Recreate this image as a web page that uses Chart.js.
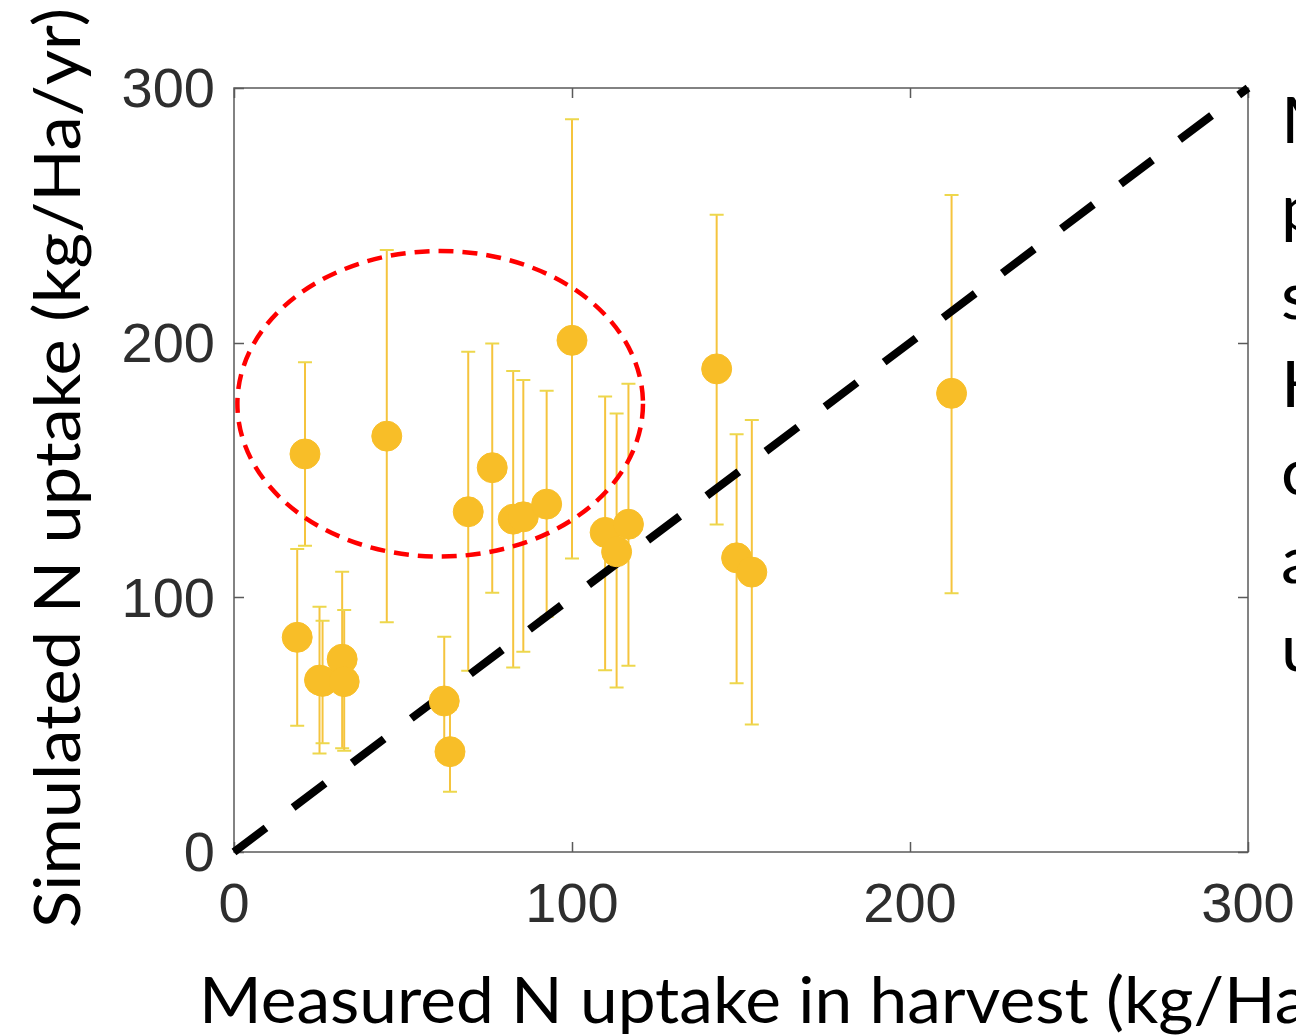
<!DOCTYPE html>
<html>
<head>
<meta charset="utf-8">
<script src="https://cdn.jsdelivr.net/npm/chart.js@4.4.1/dist/chart.umd.min.js"></script>
<style>
  html, body { margin: 0; padding: 0; background: #ffffff; }
  #wrap { width: 1296px; height: 1035px; position: relative; overflow: hidden; }
  canvas { display: block; }
</style>
</head>
<body>
<div id="wrap"><canvas id="c" width="1296" height="1035"></canvas></div>
<script>
// ---- data ----
const measured  = [21.0, 45.2, 69.3, 76.4, 82.6, 85.6, 92.5, 100.0, 109.8, 116.7, 113.2, 142.8, 148.7, 153.2, 212.3, 18.7, 25.3, 26.2, 32.0, 32.6, 62.2, 63.9];
const simulated = [156.3, 163.3, 133.6, 150.9, 130.7, 131.6, 136.6, 200.9, 125.5, 128.7, 117.9, 189.7, 115.5, 109.9, 180.1, 84.3, 67.5, 67.0, 75.7, 66.9, 59.3, 39.4];
const simLow    = [120.3, 90.2, 71.2, 101.8, 72.4, 78.6, 92.4, 115.2, 71.4, 73.1, 64.6, 128.6, 66.3, 50.1, 101.6, 49.6, 38.7, 42.7, 40.7, 39.8, 36.0, 23.7];
const simHigh   = [192.3, 236.4, 196.4, 199.7, 188.9, 185.3, 181.1, 287.7, 178.9, 183.9, 172.2, 250.2, 164.0, 169.6, 258.0, 119.0, 96.3, 90.8, 110.0, 95.0, 84.5, 56.0];

const oneToOneX = [0, 300];
const oneToOneY = [0, 300];

const xTickValues = [0, 100, 200, 300];
const xTickLabels = ['0', '100', '200', '300'];
const yTickValues = [0, 100, 200, 300];
const yTickLabels = ['0', '100', '200', '300'];

const xTitle = 'Measured N uptake in harvest (kg/Ha/yr)';
const yTitle = 'Simulated N uptake (kg/Ha/yr)';
const sideTextLines = ['M', 'p', 's', 'H', 'c', 'a', 'u'];

// highlighted group (ellipse): centre and radii in data units
const ellipseCenter = [61, 176];
const ellipseRadius = [60, 60];

// ---- styling ----
const GOLD = '#F8BE28';
const BAR = '#F5C43E';
const CAP = '#EDD74C';
const BOX = '#5a5a5a';
const TITLE_FONT = 'Lato, "Open Sans", sans-serif';
const TITLE_SIZE = 63;

const points = measured.map((x, i) => ({ x: x, y: simulated[i] }));
const diag = oneToOneX.map((x, i) => ({ x: x, y: oneToOneY[i] }));

const decor = {
  id: 'decor',
  beforeDatasetsDraw(chart) {
    const { ctx, chartArea: a, scales: { x, y } } = chart;
    ctx.save();
    // box
    ctx.strokeStyle = BOX;
    ctx.lineWidth = 1.5;
    ctx.strokeRect(a.left, a.top, a.right - a.left, a.bottom - a.top);
    // inward ticks on all four sides
    const tl = 10;
    ctx.beginPath();
    xTickValues.forEach(v => {
      const px = Math.round(x.getPixelForValue(v)) + 0.5;
      ctx.moveTo(px, a.bottom); ctx.lineTo(px, a.bottom - tl);
      ctx.moveTo(px, a.top); ctx.lineTo(px, a.top + tl);
    });
    yTickValues.forEach(v => {
      const py = Math.round(y.getPixelForValue(v)) + 0.5;
      ctx.moveTo(a.left, py); ctx.lineTo(a.left + tl, py);
      ctx.moveTo(a.right, py); ctx.lineTo(a.right - tl, py);
    });
    ctx.stroke();
    // error bars
    ctx.lineWidth = 2;
    measured.forEach((mx, i) => {
      const px = x.getPixelForValue(mx);
      const pLo = y.getPixelForValue(simLow[i]);
      const pHi = y.getPixelForValue(simHigh[i]);
      ctx.strokeStyle = BAR;
      ctx.beginPath();
      ctx.moveTo(px, pLo); ctx.lineTo(px, pHi);
      ctx.stroke();
      ctx.strokeStyle = CAP;
      ctx.beginPath();
      ctx.moveTo(px - 7, pLo); ctx.lineTo(px + 7, pLo);
      ctx.moveTo(px - 7, pHi); ctx.lineTo(px + 7, pHi);
      ctx.stroke();
    });
    ctx.restore();
  },
  afterDatasetsDraw(chart) {
    const { ctx, scales: { x, y } } = chart;
    ctx.save();
    const cx = x.getPixelForValue(ellipseCenter[0]);
    const cy = y.getPixelForValue(ellipseCenter[1]);
    const rx = x.getPixelForValue(ellipseCenter[0] + ellipseRadius[0]) - cx;
    const ry = cy - y.getPixelForValue(ellipseCenter[1] + ellipseRadius[1]);
    ctx.strokeStyle = '#FF0000';
    ctx.lineWidth = 4.5;
    ctx.setLineDash([15, 9]);
    ctx.beginPath();
    ctx.ellipse(cx, cy, rx, ry, 0, 0, Math.PI * 2);
    ctx.stroke();
    ctx.restore();
  },
  afterDraw(chart) {
    const { ctx } = chart;
    ctx.save();
    ctx.fillStyle = '#000';
    ctx.font = TITLE_SIZE + 'px ' + TITLE_FONT;
    ctx.textBaseline = 'alphabetic';
    ctx.textAlign = 'left';
    const w = ctx.measureText(yTitle).width;
    const sx = 920 / w;
    // y title (rotated)
    ctx.save();
    ctx.translate(80, 928);
    ctx.rotate(-Math.PI / 2);
    ctx.scale(sx, 1);
    ctx.fillText(yTitle, 0, 0);
    ctx.restore();
    // x title
    ctx.save();
    ctx.translate(199, 1023);
    ctx.scale(sx * 0.985, 1);
    ctx.fillText(xTitle, 0, 0);
    ctx.restore();
    // side text (cut by the picture edge)
    sideTextLines.forEach((t, i) => {
      ctx.save();
      ctx.translate(1281, 143 + 88 * i);
      ctx.scale(sx, 1);
      ctx.fillText(t, 0, 0);
      ctx.restore();
    });
    ctx.restore();
  }
};

new Chart(document.getElementById('c'), {
  type: 'scatter',
  data: {
    datasets: [
      {
        type: 'line',
        data: diag,
        borderColor: '#000000',
        borderWidth: 8,
        borderDash: [40, 34],
        pointRadius: 0,
        fill: false,
        tension: 0,
        clip: false,
        order: 2
      },
      {
        data: points,
        backgroundColor: GOLD,
        borderColor: GOLD,
        borderWidth: 1,
        pointRadius: 15,
        pointHoverRadius: 15,
        order: 1
      }
    ]
  },
  options: {
    responsive: false,
    animation: false,
    devicePixelRatio: 1,
    layout: { padding: { left: 0, right: 48, top: 88, bottom: 0 } },
    plugins: { legend: { display: false }, tooltip: { enabled: false } },
    scales: {
      x: {
        type: 'linear', min: 0, max: 300,
        grid: { display: false, drawTicks: false },
        border: { display: false },
        afterBuildTicks(s) { s.ticks = xTickValues.map(v => ({ value: v })); },
        ticks: {
          padding: 21,
          color: '#2e2e2e',
          font: { family: '"Liberation Sans", Arial, sans-serif', size: 56 },
          maxRotation: 0,
          callback: (v, i) => xTickLabels[i]
        },
        afterFit(s) { s.height = 183; s.paddingLeft = 0; s.paddingRight = 0; }
      },
      y: {
        type: 'linear', min: 0, max: 300,
        grid: { display: false, drawTicks: false },
        border: { display: false },
        afterBuildTicks(s) { s.ticks = yTickValues.map(v => ({ value: v })); },
        ticks: {
          padding: 19,
          labelOffset: 4,
          color: '#2e2e2e',
          font: { family: '"Liberation Sans", Arial, sans-serif', size: 56 },
          callback: (v, i) => yTickLabels[i]
        },
        afterFit(s) { s.width = 234; s.paddingTop = 0; s.paddingBottom = 0; }
      }
    }
  },
  plugins: [decor]
});
</script>
</body>
</html>
